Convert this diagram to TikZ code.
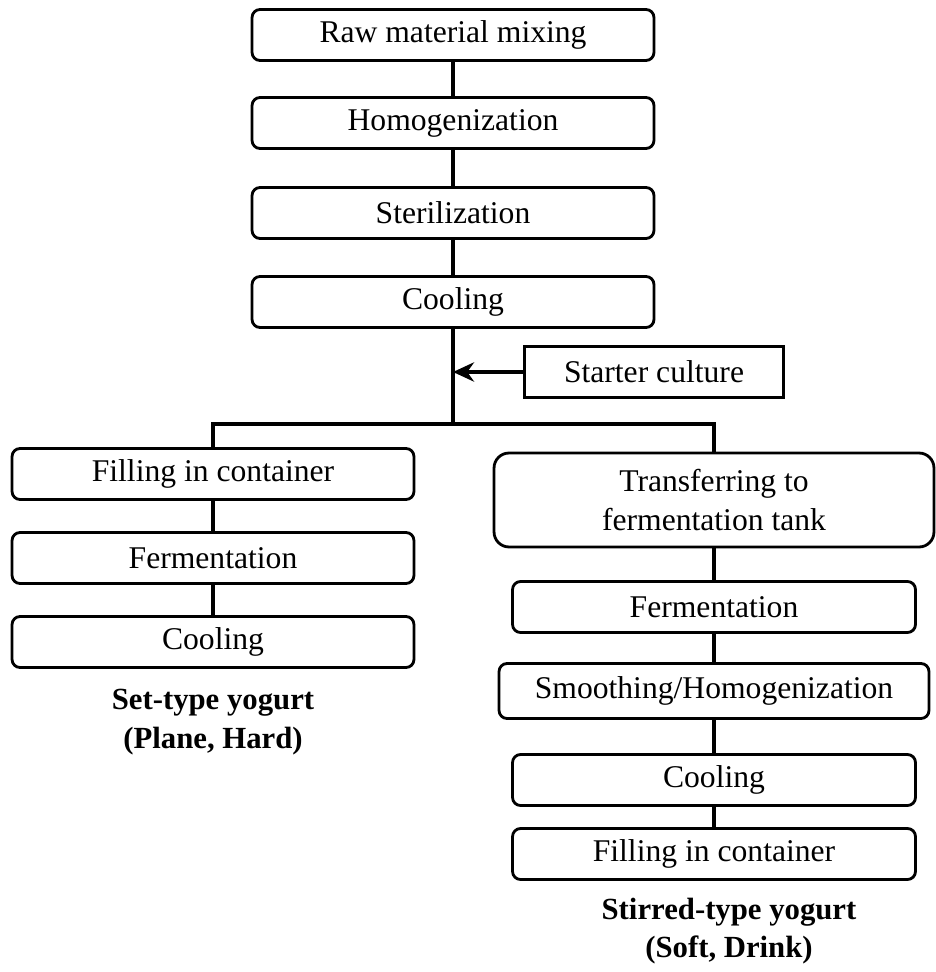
\documentclass[tikz,border=0pt]{standalone}
\usepackage{fontspec}
\setmainfont{Liberation Serif}
\usetikzlibrary{positioning,arrows.meta}

\begin{document}
\begin{tikzpicture}[x=0.02cm,y=-0.02cm,
    proc/.style={rectangle,draw,rounded corners=0.16cm,line width=1.6pt,minimum height=1.02cm,inner sep=0pt,font=\fontsize{18}{22}\selectfont},
    feed/.style={rectangle,draw,line width=1.6pt,minimum width=5.18cm,minimum height=1.02cm,inner sep=0pt,font=\fontsize{18}{22}\selectfont},
    lbl/.style={align=center,font=\fontsize{17.5}{22}\selectfont\bfseries},
    link/.style={line width=1.8pt},
    ptr/.style={-{Stealth[length=12pt,width=11pt]},line width=1.8pt}]
\useasboundingbox (0,0) rectangle (935,972);

% Common line
\node[proc,minimum width=8.04cm] (raw) at (453,35) {Raw material mixing};
\node[proc,minimum width=8.04cm] (homog) at (453,123) {Homogenization};
\node[proc,minimum width=8.04cm] (steril) at (453,213) {Sterilization};
\node[proc,minimum width=8.04cm] (cool) at (453,302) {Cooling};
\node[feed] (starter) at (654,372) {Starter culture};
\coordinate (split) at (453,424);

% Set-type
\node[proc,minimum width=8.04cm] (fillA) at (213,474) {Filling in container};
\node[proc,minimum width=8.04cm] (fermA) at (213,558) {Fermentation};
\node[proc,minimum width=8.04cm] (coolA) at (213,642) {Cooling};
\node[lbl] (setlbl) at (213,722) {Set-type yogurt\\(Plane, Hard)};

% Stirred-type
\node[proc,minimum width=8.8cm,minimum height=1.88cm,rounded corners=0.3cm,align=center] (transfer) at (714,500) {Transferring to\\fermentation tank};
\node[proc,minimum width=8.06cm] (fermB) at (714,607) {Fermentation};
\node[proc,minimum width=8.6cm,minimum height=1.1cm] (smooth) at (714,691) {Smoothing/Homogenization};
\node[proc,minimum width=8.06cm] (coolB) at (714,780) {Cooling};
\node[proc,minimum width=8.06cm] (fillB) at (714,854) {Filling in container};
\node[lbl] (stirlbl) at (729,931) {Stirred-type yogurt\\(Soft, Drink)};

\draw[link] (raw) -- (homog);
\draw[link] (homog) -- (steril);
\draw[link] (steril) -- (cool);
\draw[link] (cool.south) -- (split);
\draw[ptr] (starter.west) -- (starter.west -| split);
\draw[link] (fillA.north) |- (split) -| (transfer.north);
\draw[link] (fillA) -- (fermA);
\draw[link] (fermA) -- (coolA);
\draw[link] (transfer) -- (fermB);
\draw[link] (fermB) -- (smooth);
\draw[link] (smooth) -- (coolB);
\draw[link] (coolB) -- (fillB);

\end{tikzpicture}
\end{document}
